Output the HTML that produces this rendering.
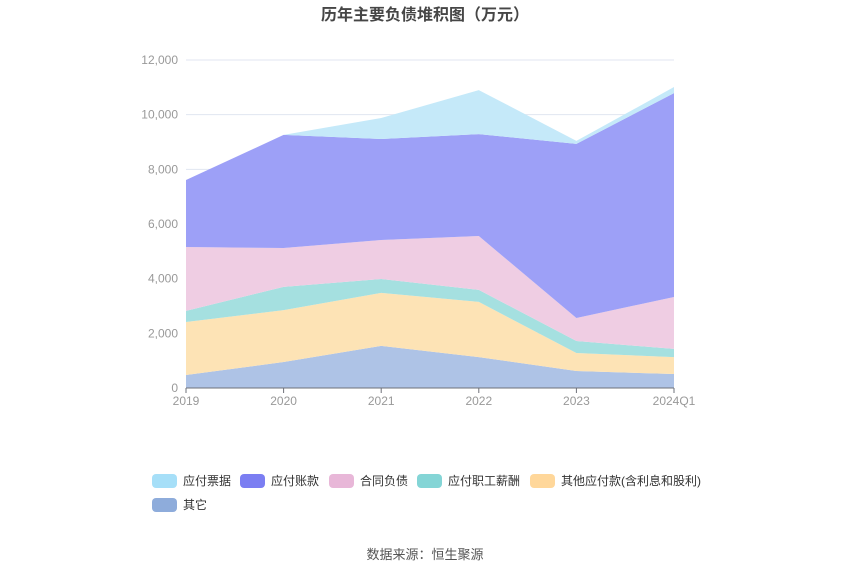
<!DOCTYPE html>
<html><head><meta charset="utf-8"><style>
body{margin:0;background:#fff;font-family:"Liberation Sans","Noto Sans CJK SC",sans-serif}
svg text{font-family:"Liberation Sans","Noto Sans CJK SC",sans-serif}
</style></head><body>
<svg id="c" width="850" height="575">
<text x="425" y="20" text-anchor="middle" font-size="16" font-weight="bold" fill="#464646">历年主要负债堆积图（万元）</text>
<g id="grid"></g><g id="areas"></g><g id="axes"></g><g id="legend"></g>
<text x="425" y="559" text-anchor="middle" font-size="13" fill="#555">数据来源：恒生聚源</text>
</svg>
<script>
const categories=["2019","2020","2021","2022","2023","2024Q1"];
const seriesNames=["其它","其他应付款(含利息和股利)","应付职工薪酬","合同负债","应付账款","应付票据"];
const sOther=[475,475,590,1130,620,510];
sOther[1]=950;sOther[2]=1540;
const sOtherPay=[1940,1900,1940,2020,660,620];
const sStaff=[405,850,510,440,440,300];
const sContract=[2340,1420,1425,1970,840,1900];
const sAP=[2450,4140,3695,3730,6370,7460];
const sNotes=[0,0,770,1610,110,220];
const yTicks=[0,2000,4000,6000,8000,10000,12000];
const series=[sOther,sOtherPay,sStaff,sContract,sAP,sNotes];
const fills=["#aec3e6","#fde3b5","#a5e0e0","#efcde3","#9da0f7","#c5e9f9"];
const legColors=["#a6dff8","#7b7ef2","#e8b7d8","#84d5d6","#ffd79a","#8eacdb"];
const legNames=["应付票据","应付账款","合同负债","应付职工薪酬","其他应付款(含利息和股利)","其它"];
const ns="http://www.w3.org/2000/svg";
const x0=186,x1=674,yb=388,yt=60,ymax=12000;
const X=i=>x0+i*(x1-x0)/(categories.length-1);
const Y=v=>yb-v/ymax*(yb-yt);
function mk(t,a,p){const e=document.createElementNS(ns,t);for(const k in a)e.setAttribute(k,a[k]);p.appendChild(e);return e;}
const grid=document.getElementById('grid'),axes=document.getElementById('axes'),areas=document.getElementById('areas'),leg=document.getElementById('legend');
yTicks.forEach(v=>{
 if(v>0){const l=mk('line',{x1:x0,x2:x1,y1:Y(v),y2:Y(v),stroke:'#e0e6f1'},grid);
 
 }
 const t=mk('text',{x:178,y:Y(v)+4,'text-anchor':'end','font-size':12,fill:'#999'},axes);t.textContent=v.toLocaleString('en-US');
 
 
});
let base=categories.map(()=>0);
series.forEach((s,k)=>{
 const top=base.map((b,i)=>b+s[i]);
 let d='M'+top.map((v,i)=>X(i)+','+Y(v)).join('L');
 for(let i=categories.length-1;i>=0;i--)d+='L'+X(i)+','+Y(base[i]);
 const p=mk('path',{d:d+'Z',fill:fills[k]},areas);
 
 
 base=top;
});
const ax=mk('line',{x1:x0,x2:x1,y1:yb,y2:yb,stroke:'#6e7079'},axes);


categories.forEach((c,i)=>{
 mk('line',{x1:X(i),x2:X(i),y1:yb,y2:yb+5,stroke:'#6e7079'},axes);
 const t=mk('text',{x:X(i),y:yb+17,'text-anchor':'middle','font-size':12,fill:'#999'},axes);t.textContent=c;
 
 
});
const lx=[152,240,329,417,530,152],ly=[481,481,481,481,481,505];
legNames.forEach((n,i)=>{
 const g=mk('g',{},leg);
 
 
 mk('rect',{x:lx[i],y:ly[i]-7,width:25,height:14,rx:4,fill:legColors[i]},g);
 const t=mk('text',{x:lx[i]+31,y:ly[i]+4,'font-size':12,fill:'#333'},g);t.textContent=n;
});
</script>
</body></html>
